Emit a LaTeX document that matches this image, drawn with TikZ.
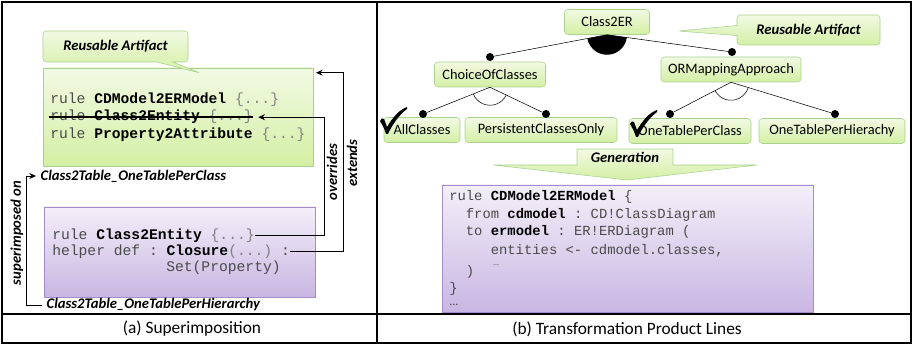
\documentclass[tikz,border=0pt]{standalone}
\usepackage{fontspec}
\setmainfont{Carlito}
\setmonofont{Liberation Mono}
\usepackage{tikz}
\usetikzlibrary{arrows.meta,calc,positioning,shapes,shapes.callouts}

\definecolor{greentop}{HTML}{F1FAE3}
\definecolor{greenbot}{HTML}{D3EFA4}
\definecolor{greenline}{HTML}{A9D18E}
\definecolor{purptop}{HTML}{F3EFF9}
\definecolor{purpbot}{HTML}{C9B6E2}
\definecolor{purpline}{HTML}{A48BC9}
\definecolor{codegray}{HTML}{4A4A4A}
\definecolor{bracegray}{HTML}{808080}

\newcommand{\kw}[1]{{\bfseries\color{black}#1}}
\newcommand{\brc}[1]{{\color{bracegray}#1}}

\begin{document}
\begin{tikzpicture}[x=0.75pt,y=-0.75pt,
		frame/.style={line width=1.2pt},
		feature/.style={draw=greenline, rounded corners=2.5pt, top color=greentop, bottom color=greenbot, minimum height=18.75pt, inner sep=1pt, font=\fontsize{10.8}{12}\selectfont},
		fdot/.style={circle, fill=black, inner sep=0pt, minimum size=6pt},
		codeline/.style={anchor=base west, inner sep=0pt, text=codegray, font=\ttfamily\fontsize{11}{13}\selectfont},
		codeline2/.style={anchor=base west, inner sep=0pt, text=codegray, font=\ttfamily\fontsize{10.4}{12}\selectfont},
		tag/.style={font=\fontsize{11}{13}\selectfont\bfseries\itshape},
		artifact/.style={rectangle callout, draw=greenline, rounded corners=2.5pt, top color=greentop, bottom color=greenbot, font=\fontsize{11}{13}\selectfont\bfseries\itshape},
		arr/.style={-{Stealth[length=5pt,width=4.5pt]}, line width=0.6pt},
		chk/.pic={\fill (-7,-13) .. controls (-5,-16) .. (-3,-15) -- (0,-7) .. controls (6,-17) and (12,-24) .. (20,-27) -- (20,-25) .. controls (12,-19) and (5,-9) .. (1,0) -- (-1,0) .. controls (-3,-6) .. (-7,-13) -- cycle;}
		]
	
	\useasboundingbox (0,0) rectangle (913,345);
	
	% --- frame ---
	\draw[frame] (2,2) rectangle (911,343);
	\draw[frame] (377,2) -- (377,343);
	\draw[frame] (2,314) -- (911,314);
	\node[font=\fontsize{13}{15}\selectfont] (capA) at (192,329) {(a) Superimposition};
	\node[font=\fontsize{13}{15}\selectfont] (capB) at (627,329) {(b) Transformation Product Lines};
	
	% --- (a) Superimposition ---
	\node[draw=greenline, top color=greentop, bottom color=greenbot, minimum width=202.5pt, minimum height=73.5pt] (gbox) at (178,117) {};
	\node[artifact, minimum width=108.75pt, minimum height=23.25pt, callout absolute pointer={(200,73)}, callout pointer width=12pt] (art1) at (115.5,46.5) {Reusable Artifact};
	
	\node[codeline] (lnA) at (50,104) {rule \kw{CDModel2ERModel} \brc{\{...\}}};
	\node[codeline] (lnB) at (50,121) {rule \kw{Class2Entity} \brc{\{...\}}};
	\node[codeline] (lnC) at (50,139) {rule \kw{Property2Attribute} \brc{\{...\}}};
	\draw[line width=1.6pt] ([xshift=-1pt]lnB.west) -- (lnB.east);
	
	\node[draw=purpline, top color=purptop, bottom color=purpbot, minimum width=203.25pt, minimum height=67.5pt] (pbox) at (179.5,252) {};
	\node[codeline] (pB) at (52,239) {rule \kw{Class2Entity} \brc{\{...\}}};
	\node[codeline] (pC) at (52,255) {helper def : \kw{Closure}\brc{(...)} :};
	\node[codeline] (pD) at (166,272) {Set(Property)};
	
	\node[tag, anchor=west] (lblC) at (36,176) {Class2Table\_OneTablePerClass};
	\node[tag, anchor=west] (lblH) at (42,305) {Class2Table\_OneTablePerHierarchy};
	
	\draw[arr] (lblH.west) -| ($(lblC.west)+(-10,0)$) -- (lblC.west);
	\node[tag, rotate=90] (supl) at (17,233) {superimposed on};
	
	\draw[arr] (pB.east) -- ++(69,0) |- ([xshift=4pt]lnB.east);
	\node[tag, rotate=90] (ovl) at (332,172) {overrides};
	
	\draw[arr] (pC.east) -- ++(53,0) |- ([xshift=2pt,yshift=-3.75pt]gbox.north east);
	\node[tag, rotate=90] (exl) at (352,163) {extends};
	
	% --- (b) Transformation Product Lines ---
	\node[feature, minimum width=63.75pt] (c2er) at (607,22) {Class2ER};
	\node[feature, minimum width=83.25pt] (cho) at (490,74.5) {ChoiceOfClasses};
	\node[feature, minimum width=105pt] (orm) at (731,69.5) {ORMappingApproach};
	\node[feature, minimum width=57pt] (all) at (422,130) {AllClasses};
	\node[feature, minimum width=114pt] (pers) at (541,130) {PersistentClassesOnly};
	\node[feature, minimum width=91.5pt] (otpc) at (690,131) {OneTablePerClass};
	\node[feature, minimum width=109.5pt] (otph) at (832,131) {OneTablePerHierachy};
	
	\node[fdot] (dCho) at (490,57) {};
	\node[fdot] (dOrm) at (732,52) {};
	\node[fdot] (dAll) at (423,114) {};
	\node[fdot] (dPers) at (546,114) {};
	\node[fdot] (dOtpc) at (670,114) {};
	\node[fdot] (dOtph) at (835,114) {};
	
	\draw (c2er.south) -- (dCho);
	\draw (c2er.south) -- (dOrm);
	\fill (c2er.south) -- ++(169.4:20) arc[start angle=169.4, end angle=7.7, radius=20] -- cycle;
	
	\draw (cho.south) -- (dAll);
	\draw (cho.south) -- (dPers);
	\draw (cho.south) ++(157.7:18) arc[start angle=157.7, end angle=26.2, radius=18];
	
	\draw (orm.south) -- (dOtpc);
	\draw (orm.south) -- (dOtph);
	\draw (orm.south) ++(152.3:18) arc[start angle=152.3, end angle=17.4, radius=18];
	
	\pic at (387,134) {chk};
	\pic at (637,137) {chk};
	
	\node[artifact, minimum width=107.25pt, minimum height=22.5pt, callout absolute pointer={(678,31)}, callout pointer width=7.5pt] (art2) at (808.5,30) {Reusable Artifact};
	
	\path[draw=greenline, top color=greentop, bottom color=greenbot] (577,149) -- (673,149) -- (673,165) -- (757,165) -- (627,180) -- (493,165) -- (577,165) -- cycle;
	\node[tag] (gen) at (625,157) {Generation};
	
	\node[draw=purpline, top color=purptop, bottom color=purpbot, minimum width=278.25pt, minimum height=95.25pt] (cbox) at (627.5,248.5) {};
	\node[codeline2] (rA) at (449,201) {rule \kw{CDModel2ERModel} \{};
	\node[codeline2] (rB) at (465.6,219) {from \kw{cdmodel} : CD!ClassDiagram};
	\node[codeline2] (rC) at (465.6,236) {to \kw{ermodel} : ER!ERDiagram (};
	\node[codeline2] (rD) at (490.5,254) {entities <- cdmodel.classes,};
	\node[anchor=base west, inner sep=0pt, text=codegray, font=\fontsize{6}{7}\selectfont] (rE) at (493,265) {…};
	\node[codeline2] (rF) at (465.6,276) {)};
	\node[codeline2] (rG) at (449,292) {\}};
	\node[anchor=base west, inner sep=0pt, text=codegray, font=\fontsize{9}{10}\selectfont] (rH) at (449,305) {...};
	
\end{tikzpicture}
\end{document}
